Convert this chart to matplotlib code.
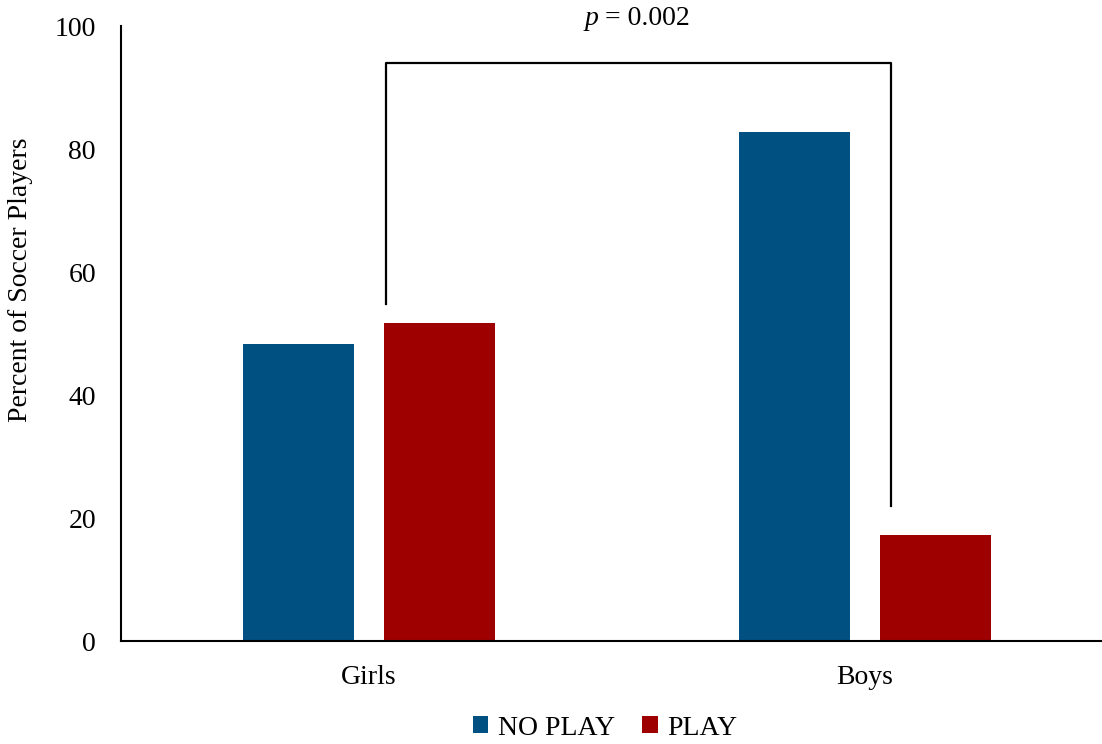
import numpy as np
import matplotlib
matplotlib.use('Agg')
import matplotlib.pyplot as plt

plt.rcParams['font.family'] = ['Liberation Serif', 'DejaVu Serif']

groups = ['Girls', 'Boys']
no_play = [48.3, 82.8]
play = [51.7, 17.2]
p_text = '= 0.002'

fig = plt.figure(figsize=(11.02, 7.44), dpi=100)
ax = fig.add_axes([0.1098, 0.1384, 0.8902, 0.8266])

x = np.arange(len(groups))
w = 0.224
off = 0.1425
ax.bar(x - off, no_play, w, color='#005082', label='NO PLAY')
ax.bar(x + off, play, w, color='#9e0000', label='PLAY')

ax.set_xlim(-0.5, 1.478)
ax.set_ylim(0, 100)
ax.set_yticks([0, 20, 40, 60, 80, 100])
ax.set_xticks(x)
ax.set_xticklabels(groups)
ax.tick_params(axis='both', length=0, labelsize=20)
ax.tick_params(axis='y', pad=18)
ax.tick_params(axis='x', pad=17)
for s in ['top', 'right']:
    ax.spines[s].set_visible(False)
ax.spines['left'].set_linewidth(1.5)
ax.spines['bottom'].set_linewidth(1.5)

ax.set_ylabel('Percent of Soccer Players', fontsize=20)
ax.yaxis.set_label_coords(-0.09, 0.587)

# significance bracket
xl, xr = 0.034, 1.052
ytop = 94.0
ax.plot([xl, xl, xr, xr], [play[0] + 3.1, ytop, ytop, play[1] + 4.8],
        color='black', lw=1.6, clip_on=False)
ax.text(0.476, 101.3, p_text, ha='left', va='center', fontsize=20,
        clip_on=False)
ax.text(0.462, 101.3, 'p', ha='right', va='center', fontsize=20,
        style='italic', clip_on=False)

fig.legend(loc='lower center', bbox_to_anchor=(0.549, -0.029), ncol=2,
           frameon=False, fontsize=20, handlelength=0.55, handleheight=0.55,
           handletextpad=0.35, columnspacing=1.0)

fig.savefig('out.png', dpi=100)
